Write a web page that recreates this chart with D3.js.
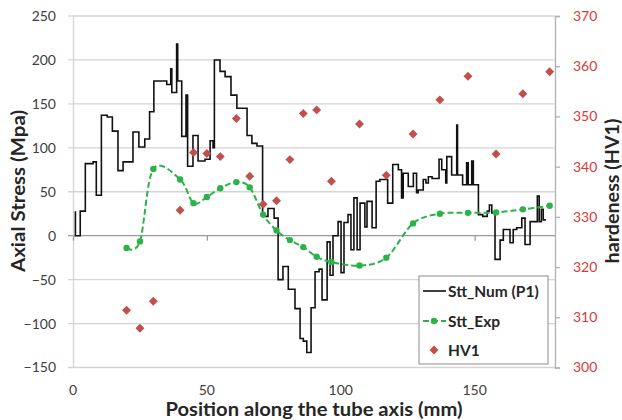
<!DOCTYPE html>
<html lang="en">
<head>
  <meta charset="UTF-8">
  <title>Axial stress and hardness</title>
  <script src="https://d3js.org/d3.v7.min.js"></script>
  <style>
    body { margin: 0; background: #fff; }
    text { font-family: Lato, "Open Sans", sans-serif; }
  </style>
</head>
<body>
<div class="main"></div>
<script>

  // Stt_Num (P1): step line, each x is where a step starts
  var numX = [0.6, 0.9, 2.7, 4.6, 7.5, 8.7, 10.6, 12.8, 14.7, 16.8, 18.7, 22.4, 24.6, 26.8, 28.6,
    30.2, 35.0, 36.5, 36.9, 38.7, 39.1, 40.6, 42.2, 42.8, 44.8, 46.7, 49.3, 51.2, 52.3, 52.8,
    54.9, 56.8, 59.0, 61.2, 65.0, 66.8, 68.7, 70.8, 72.8, 75.1, 76.6, 78.4, 80.4, 82.9, 84.8,
    86.0, 87.3, 88.9, 90.4, 91.9, 93.0, 94.9, 96.0, 97.1, 99.0, 100.1, 101.2, 102.7, 103.8, 104.9,
    106.1, 107.2, 109.0, 109.8, 111.7, 113.2, 114.6, 117.5, 119.4, 121.5, 122.7, 123.3, 125.2, 127.1, 128.3,
    128.9, 130.8, 131.8, 132.7, 134.1, 136.7, 137.7, 139.2, 139.6, 141.4, 143.3, 143.6, 145.5, 147.0, 147.6,
    148.9, 149.5, 151.4, 153.0, 154.7, 155.5, 156.4, 157.6, 159.5, 160.7, 163.2, 164.4, 165.7, 167.6, 168.8,
    170.7, 173.4, 174.1, 174.9, 175.6, 176.6];
  var numVal = [27, 0, 28, 82, 84, 46, 137, 135, 119, 74, 84, 118, 101, 110, 141,
    176, 172, 190, 163, 218, 176, 113, 160, 79, 114, 85, 87, 108, 100, 200,
    187, 181, 160, 145, 114, 105, 102, 22, 31, 20, -50, -35, -61, -83, -117,
    -120, -133, -82, -41, -38, -73, -7, -45, 0, 16, -42, 15, 24, -16, 43,
    -16, 37, 10, 39, 9, 62, 64, 37, 81, 75, 43, 71, 56, 71, 49,
    52, 64, 60, 67, 65, 87, 75, 60, 90, 69, 126, 69, 58, 83, 58,
    85, 58, 24, 22, 28, 35, 26, -27, -5, 7, -8, 7, 9, 20, -10,
    16, 45, 16, 30, 18, 18];

  // Stt_Exp and HV1 are measured at the same positions
  var expX = [20, 25, 30, 40, 45, 50, 55, 61, 66, 71, 76, 81, 86, 91, 96.5, 107, 117, 127, 137, 147.5, 158, 168, 178];
  var expVal = [-14, -6.5, 76, 64, 37, 44, 54, 61, 55, 24, 6, -5, -13, -24, -30, -34, -25, 14, 25, 26, 26.5, 30, 34];
  var hvVal = [311.4, 307.8, 313.2, 331.3, 342.8, 342.6, 342.0, 349.6, 338.1, 332.5, 333.2, 341.4,
    350.6, 351.3, 337.1, 348.5, 338.3, 346.5, 353.3, 358.0, 342.5, 354.5, 358.9];

  var xTicks = [0, 50, 100, 150];
  var yTicks = [-150, -100, -50, 0, 50, 100, 150, 200, 250];
  var hvTicks = [300, 310, 320, 330, 340, 350, 360, 370];
  var legendNames = ["Stt_Num (P1)", "Stt_Exp", "HV1"];

  var width = 622, height = 420;
  var plotLeft = 73, plotRight = 555, plotTop = 16, plotBottom = 367.5;
  var green = "#2db24a", red = "#c0504d";

  var xScale = d3.scaleLinear().domain([0, 180]).range([plotLeft, plotRight]);
  var yScale = d3.scaleLinear().domain([-150, 250]).range([plotBottom, plotTop]);
  var hvScale = d3.scaleLinear().domain([300, 370]).range([plotBottom, plotTop]);

  var svg = d3.select(".main")
          .append("svg")
          .attr("width", width)
          .attr("height", height);

  // horizontal gridlines
  svg.append("g").selectAll("line")
          .data(yTicks)
          .join("line")
          .attr("x1", plotLeft - 5).attr("x2", plotRight)
          .attr("y1", d => yScale(d)).attr("y2", d => yScale(d))
          .style("stroke", d => d == 0 ? "#9a9a9a" : "#d4d4d4")
          .style("stroke-width", 1.3);

  // left axis
  var yAxis = d3.axisLeft(yScale).tickValues(yTicks).tickSize(0).tickPadding(17);
  var gy = svg.append("g").attr("transform", `translate(${plotLeft},0)`).call(yAxis);
  gy.select(".domain").style("stroke", "#d4d4d4").style("stroke-width", 1.3);
  gy.selectAll("text").style("font-size", "14px").style("fill", "#404040").style("font-family", "Lato");

  // x axis sits on the zero line, labels at the bottom
  var xAxis = d3.axisBottom(xScale).tickValues(xTicks).tickSize(5).tickFormat("");
  var gx = svg.append("g").attr("transform", `translate(0,${yScale(0)})`).call(xAxis);
  gx.select(".domain").remove();
  gx.selectAll("line").style("stroke", "#9a9a9a").style("stroke-width", 1.3);

  svg.append("g").selectAll("text")
          .data(xTicks)
          .join("text")
          .attr("x", d => xScale(d)).attr("y", 395)
          .attr("text-anchor", "middle")
          .style("font-size", "14px").style("fill", "#404040")
          .text(d => d);

  // right axis (hardness)
  var hvAxis = d3.axisRight(hvScale).tickValues(hvTicks).tickSize(5).tickPadding(13);
  var gh = svg.append("g").attr("transform", `translate(${plotRight},0)`).call(hvAxis);
  gh.select(".domain").style("stroke", "#b0b0b0").style("stroke-width", 1.3);
  gh.selectAll("line").style("stroke", "#b0b0b0").style("stroke-width", 1.3);
  gh.selectAll("text").style("font-size", "14px").style("fill", "#d83a3a").style("font-family", "Lato");

  // axis titles
  function axisTitle(transform, label, len) {
    svg.append("text").attr("transform", transform).attr("text-anchor", "middle")
            .attr("textLength", len).attr("lengthAdjust", "spacingAndGlyphs")
            .style("font-size", "18px").style("font-weight", "bold").style("fill", "#262626")
            .text(label);
  }
  axisTitle("translate(314,416)", "Position along the tube axis (mm)", 297);
  axisTitle("translate(25,191) rotate(-90)", "Axial Stress (Mpa)", 162);
  axisTitle("translate(619,191) rotate(-90)", "hardeness (HV1)", 145);

  // Stt_Num step line
  var numData = numX.map((x, i) => ({x: x, y: numVal[i]}));
  var stepLine = d3.line()
          .x(d => xScale(d.x))
          .y(d => yScale(d.y))
          .curve(d3.curveStepAfter);
  svg.append("path")
          .datum(numData)
          .attr("d", stepLine)
          .style("fill", "none")
          .style("stroke", "#111")
          .style("stroke-width", 1.6);

  // Stt_Exp smooth dashed line + dots
  var expData = expX.map((x, i) => ({x: x, y: expVal[i]}));
  var smoothLine = d3.line()
          .x(d => xScale(d.x))
          .y(d => yScale(d.y))
          .curve(d3.curveCardinal.tension(0));
  svg.append("path")
          .datum(expData)
          .attr("d", smoothLine)
          .style("fill", "none")
          .style("stroke", green)
          .style("stroke-width", 2)
          .style("stroke-dasharray", "6,3");
  svg.append("g").selectAll("circle")
          .data(expData)
          .join("circle")
          .attr("cx", d => xScale(d.x)).attr("cy", d => yScale(d.y))
          .attr("r", 3.2)
          .style("fill", green);

  // HV1 diamonds on the right scale
  var diamond = d3.symbol(d3.symbolSquare, 40);
  svg.append("g").selectAll("path")
          .data(expX.map((x, i) => ({x: x, y: hvVal[i]})))
          .join("path")
          .attr("d", diamond)
          .attr("transform", d => `translate(${xScale(d.x)},${hvScale(d.y)}) rotate(45)`)
          .style("fill", red);

  // legend
  var lg = svg.append("g").attr("transform", "translate(419,276)");
  lg.append("rect").attr("width", 129).attr("height", 88)
          .style("fill", "#fff").style("stroke", "#8c8c8c").style("stroke-width", 1);
  var rowY = [15, 45, 74];
  lg.append("line").attr("x1", 4).attr("x2", 27).attr("y1", rowY[0]).attr("y2", rowY[0])
          .style("stroke", "#111").style("stroke-width", 1.6);
  lg.append("line").attr("x1", 4).attr("x2", 27).attr("y1", rowY[1]).attr("y2", rowY[1])
          .style("stroke", green).style("stroke-width", 2).style("stroke-dasharray", "6,3");
  lg.append("circle").attr("cx", 15).attr("cy", rowY[1]).attr("r", 3.2).style("fill", green);
  lg.append("path").attr("d", diamond).attr("transform", `translate(15,${rowY[2]}) rotate(45)`).style("fill", red);
  lg.selectAll(".lgText")
          .data(legendNames)
          .join("text")
          .attr("class", "lgText")
          .attr("x", 29).attr("y", (d, i) => rowY[i] + 5.5)
          .style("font-size", "15.5px").style("font-weight", "bold").style("fill", "#262626")
          .text(d => d);

</script>
</body>
</html>
